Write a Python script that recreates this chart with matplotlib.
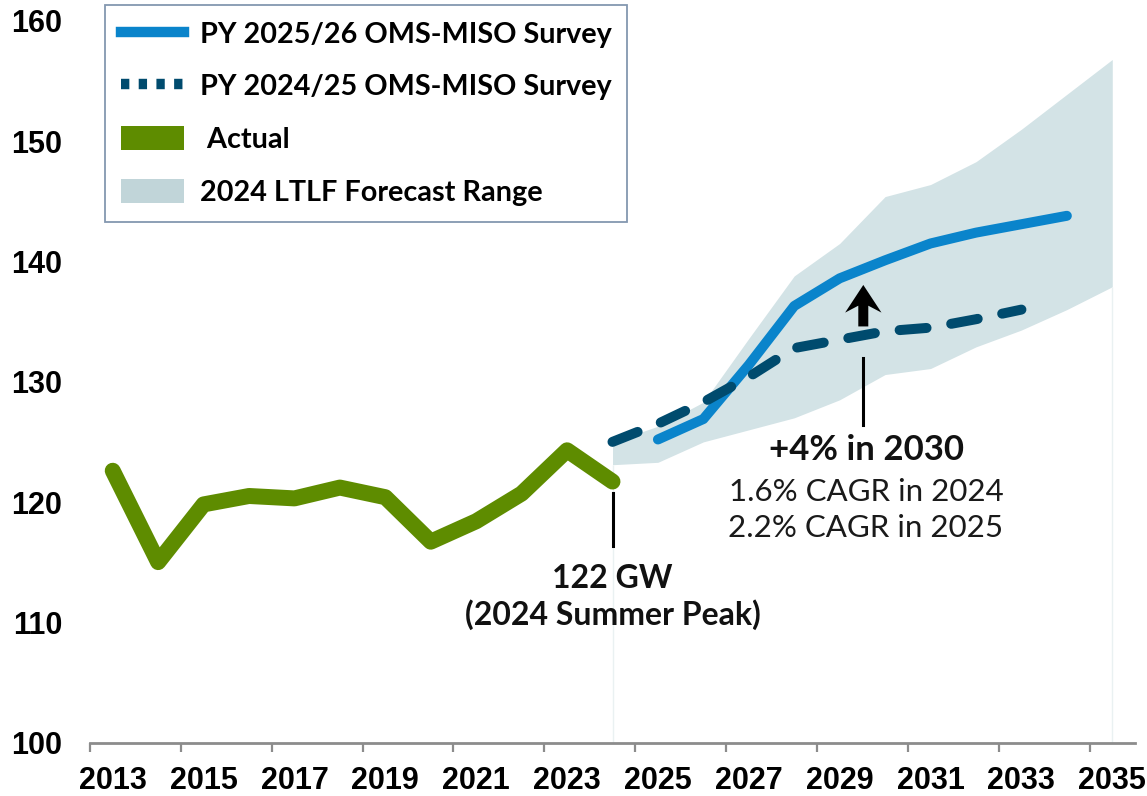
import numpy as np
import matplotlib
matplotlib.use("Agg")
import matplotlib.pyplot as plt
from matplotlib.lines import Line2D
from matplotlib.patches import Patch

# --- data (GW) ---
years_actual = [2013, 2014, 2015, 2016, 2017, 2018, 2019, 2020, 2021, 2022, 2023, 2024]
actual = [122.6, 115.0, 119.8, 120.5, 120.3, 121.2, 120.4, 116.7, 118.4, 120.7, 124.3, 121.7]

years_new = [2025, 2026, 2027, 2028, 2029, 2030, 2031, 2032, 2033, 2034]
survey_2526 = [125.2, 126.9, 131.4, 136.3, 138.6, 140.1, 141.5, 142.4, 143.1, 143.8]

years_old = [2024, 2025, 2026, 2027, 2028, 2029, 2030, 2031, 2032, 2033]
survey_2425 = [125.0, 126.5, 128.3, 130.4, 132.8, 133.5, 134.2, 134.5, 135.2, 136.0]

years_band = [2024, 2025, 2026, 2027, 2028, 2029, 2030, 2031, 2032, 2033, 2034, 2035]
band_low = [123.1, 123.3, 125.0, 126.0, 127.0, 128.5, 130.6, 131.1, 132.9, 134.3, 136.0, 137.9]
band_high = [125.0, 126.3, 128.3, 133.6, 138.8, 141.5, 145.4, 146.4, 148.3, 151.0, 153.9, 156.8]

tick_years = list(range(2013, 2036, 2))
y_ticks = [100, 110, 120, 130, 140, 150, 160]

# colours
GREEN = '#5E8C00'
BLUE = '#0A84CB'
DARK = '#004B6E'
BAND = '#D3E3E6'
BAND_LEG = '#C1D5D9'

W, H = 1147, 796
fig = plt.figure(figsize=(W / 100, H / 100), dpi=100)
ax = fig.add_axes([90 / W, 53.5 / H, (1135 - 90) / W, (742.5 - 21) / H])

# forecast range band + faint edges down to the axis
ax.fill_between(years_band, band_low, band_high, color=BAND, lw=0, zorder=1)
ax.vlines([years_band[0], years_band[-1]], 100, [band_low[0], band_low[-1]],
          color='#EAF1F2', lw=1, zorder=1)

ax.plot(years_actual, actual, color=GREEN, lw=11.5, solid_capstyle='round',
        solid_joinstyle='round', zorder=3)
ax.plot(years_new, survey_2526, color=BLUE, lw=7.2, solid_capstyle='round',
        solid_joinstyle='round', zorder=4)
ax.plot(years_old, survey_2425, color=DARK, lw=7.2, linestyle=(0, (2.7, 2.5)),
        dash_capstyle='round', zorder=5)

# arrow showing increase in 2030
ax.arrow(2029.52, 134.6, 0, 3.45, width=0.22, head_width=0.8, head_length=2.3,
         length_includes_head=True, overhang=0.25, color='black', lw=0, zorder=6)
ax.plot([2029.52, 2029.52], [131.95, 126.4], color='black', lw=2.2, zorder=6)
ax.plot([2024, 2024], [120.75, 116.3], color='black', lw=2.2, zorder=6)

lato = ['Lato', 'DejaVu Sans']
ax.text(2029.58, 124.3, '+4% in 2030', family=lato, weight='bold', fontsize=25,
        ha='center', va='center', color='#111111')
ax.text(2029.58, 120.86, '1.6% CAGR in 2024', family=lato, fontsize=22.5,
        ha='center', va='center', color='#1A1A1A')
ax.text(2029.58, 117.8, '2.2% CAGR in 2025', family=lato, fontsize=22.5,
        ha='center', va='center', color='#1A1A1A')
ax.text(2024.0, 113.65, '122 GW', family=lato, weight='bold', fontsize=23,
        ha='center', va='center', color='#111111')
ax.text(2024.0, 110.6, '(2024 Summer Peak)', family=lato, weight='bold', fontsize=23,
        ha='center', va='center', color='#111111')

# axes styling
ax.set_xlim(2012.5, 2035.5)
ax.set_ylim(100, 160)
for s in ['top', 'right', 'left']:
    ax.spines[s].set_visible(False)
ax.spines['bottom'].set_color('#8C8C8C')
ax.spines['bottom'].set_linewidth(2)

ax.set_xticks([y - 0.5 for y in tick_years])
ax.set_xticklabels([])
ax.set_xticks(tick_years, minor=True)
ax.set_xticklabels([str(y) for y in tick_years], minor=True)
ax.tick_params(axis='x', which='major', length=6.5, width=1.6, color='#8C8C8C')
ax.tick_params(axis='x', which='minor', length=0, pad=17)
ax.set_yticks(y_ticks)
ax.tick_params(axis='y', length=0, pad=20)
for lab in ax.get_xticklabels(minor=True):
    lab.set_fontfamily(['Liberation Sans', 'DejaVu Sans'])
    lab.set_fontweight('bold')
    lab.set_fontsize(22)
for lab in ax.get_yticklabels():
    lab.set_fontfamily(['Liberation Sans', 'DejaVu Sans'])
    lab.set_fontweight('bold')
    lab.set_fontsize(22)

# legend
handles = [
    Line2D([], [], color=BLUE, lw=7.5),
    Line2D([], [], color=DARK, lw=7.5, linestyle=(0, (0.8, 0.9)), dash_capstyle='butt'),
    Patch(facecolor=GREEN, edgecolor='none'),
    Patch(facecolor=BAND_LEG, edgecolor='none'),
]
labels = ['PY 2025/26 OMS-MISO Survey', 'PY 2024/25 OMS-MISO Survey',
          ' Actual', '2024 LTLF Forecast Range']
leg = ax.legend(handles, labels, loc='upper left',
                bbox_to_anchor=(105 / W, 1 - 5 / H), bbox_transform=fig.transFigure,
                prop={'family': lato, 'weight': 'bold', 'size': 20.7},
                frameon=True, fancybox=False, framealpha=1, edgecolor='#8497B0',
                borderpad=0.55, handlelength=2.2, handleheight=0.9,
                handletextpad=0.55, labelspacing=0.9, borderaxespad=0)
leg.get_frame().set_linewidth(1.3)
leg.set_zorder(10)

fig.savefig('out.png', dpi=100)
